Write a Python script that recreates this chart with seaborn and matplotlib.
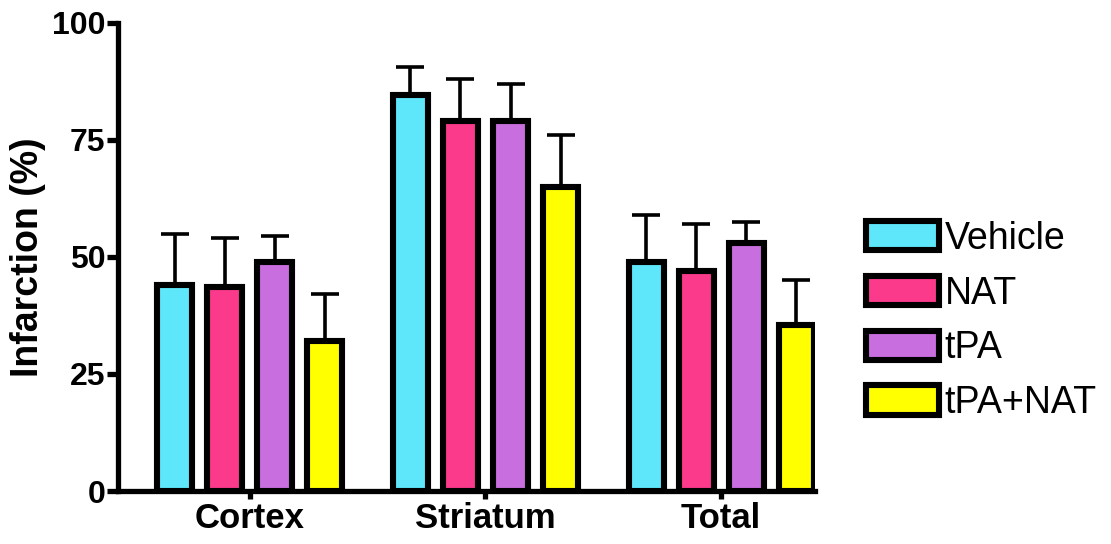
import pandas as pd
import numpy as np
import matplotlib
matplotlib.use("Agg")
import matplotlib.pyplot as plt
import seaborn as sns

# values (mean and upper SEM/SD)
regions = ["Cortex", "Striatum", "Total"]
groups = ["Vehicle", "NAT", "tPA", "tPA+NAT"]
vehicle = [44, 84.5, 49]
nat = [43.5, 79, 47]
tpa = [49, 79, 53]
tpa_nat = [32, 65, 35.5]
vehicle_err = [11, 6, 10]
nat_err = [10.5, 9, 10]
tpa_err = [5.5, 8, 4.5]
tpa_nat_err = [10, 11, 9.5]
colors = ["#5EE6FA", "#FB3A8B", "#C96EDF", "#FFFF00"]

means = [vehicle, nat, tpa, tpa_nat]
errs = [vehicle_err, nat_err, tpa_err, tpa_nat_err]

rows = []
for g, vals in zip(groups, means):
    for r, v in zip(regions, vals):
        rows.append({"region": r, "group": g, "value": v})
df = pd.DataFrame(rows)

sns.set_style("ticks", {"axes.edgecolor": "black", "text.color": "black",
                        "axes.labelcolor": "black", "xtick.color": "black",
                        "ytick.color": "black"})
plt.rcParams['font.family'] = ['Liberation Sans', 'DejaVu Sans']

fig = plt.figure(figsize=(11.11, 5.44), dpi=100)
ax = fig.add_axes([0.106, 0.0974, 0.628, 0.8606])

sns.barplot(data=df, x="region", y="value", hue="group", order=regions,
            hue_order=groups, palette=colors, saturation=1, width=0.85, gap=0.3,
            edgecolor="black", linewidth=4.4, errorbar=None, ax=ax, zorder=3)

# one-sided error bars on top of each bar
for cont, e in zip(ax.containers, errs):
    for bar, err in zip(cont, e):
        x = bar.get_x() + bar.get_width() / 2
        y = bar.get_height()
        ax.errorbar(x, y, yerr=[[0], [err]], fmt="none", ecolor="black",
                    elinewidth=2.6, capsize=10, capthick=2.6, zorder=2)

ax.set_ylim(0, 100)
ax.set_xlim(-0.56, 2.40)
ax.set_yticks([0, 25, 50, 75, 100])
ax.set_ylabel("Infarction (%)", fontsize=27, fontweight="bold", labelpad=4)
ax.set_xlabel("")
for s in ["top", "right"]:
    ax.spines[s].set_visible(False)
for s in ["left", "bottom"]:
    ax.spines[s].set_linewidth(3.8)
    ax.spines[s].set_color("black")
ax.tick_params(axis="y", length=8, width=3.8, labelsize=23, pad=1, colors="black")
ax.tick_params(axis="x", length=6, width=3.8, labelsize=25, pad=2, colors="black")
for lab in ax.get_xticklabels() + ax.get_yticklabels():
    lab.set_fontweight("bold")

handles, labels = ax.get_legend_handles_labels()
leg = ax.legend(handles, labels, loc="center left", bbox_to_anchor=(0.766, 0.41),
                bbox_transform=fig.transFigure, frameon=False, fontsize=27,
                handlelength=1.95, handleheight=0.82, labelspacing=0.5,
                handletextpad=0.15, borderaxespad=0)
for t in leg.get_texts():
    t.set_color("black")

fig.savefig("out.png", dpi=100)
